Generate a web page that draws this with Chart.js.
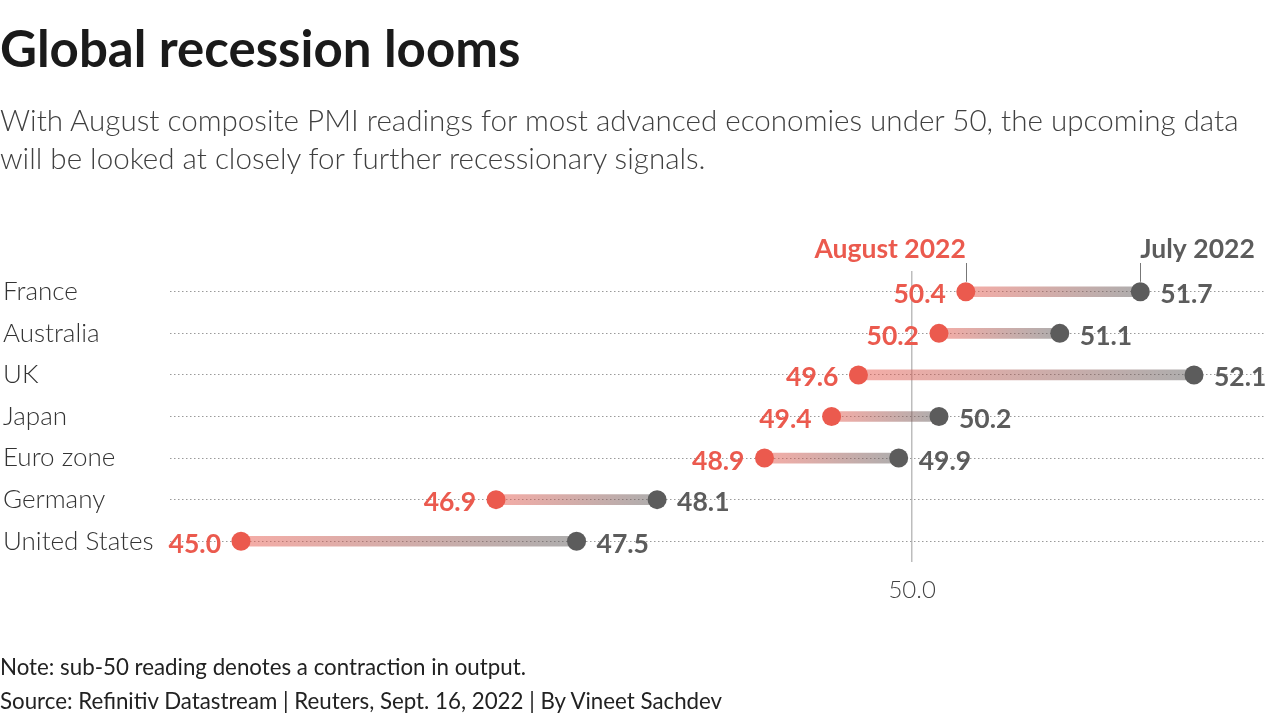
<!DOCTYPE html>
<html>
<head>
<meta charset="utf-8">
<script src="https://cdn.jsdelivr.net/npm/chart.js@4.4.0/dist/chart.umd.min.js"></script>
<style>
  html, body { margin: 0; padding: 0; background: #fff; }
  body { width: 1288px; height: 720px; position: relative; overflow: hidden; font-family: Lato, "Noto Sans", sans-serif; }
  #wrap { position: absolute; left: 0; top: 0; width: 1288px; height: 720px; }
  .txt { position: absolute; left: 0; white-space: nowrap; }
  #title { top: 17px; font-size: 51px; font-weight: 700; color: #1a1a1a; }
  #sub { top: 101px; font-size: 29.6px; font-weight: 300; color: #404040; line-height: 38px; }
  #note { top: 653px; font-size: 22.3px; color: #222; }
  #src { top: 687px; font-size: 22.3px; color: #222; }
</style>
</head>
<body>
<div id="wrap"><canvas id="c" width="1288" height="720"></canvas></div>
<div class="txt" id="title">Global recession looms</div>
<div class="txt" id="sub">With August composite PMI readings for most advanced economies under 50, the upcoming data<br>will be looked at closely for further recessionary signals.</div>
<div class="txt" id="note">Note: sub-50 reading denotes a contraction in output.</div>
<div class="txt" id="src">Source: Refinitiv Datastream | Reuters, Sept. 16, 2022 | By Vineet Sachdev</div>
<script>
const countries = ['France', 'Australia', 'UK', 'Japan', 'Euro zone', 'Germany', 'United States'];
const august2022 = [50.4, 50.2, 49.6, 49.4, 48.9, 46.9, 45.0];
const july2022 = [51.7, 51.1, 52.1, 50.2, 49.9, 48.1, 47.5];
const xTicks = [50];

const RED = '#EB5A4E';
const GRAY = '#5C5C5C';
const FONT = 'Lato, "Noto Sans", sans-serif';

const labelPlugin = {
  id: 'dumbbellLabels',
  afterDatasetsDraw(chart) {
    const ctx = chart.ctx;
    const augMeta = chart.getDatasetMeta(1);
    const julMeta = chart.getDatasetMeta(2);
    ctx.save();
    ctx.font = '700 26.5px ' + FONT;
    ctx.textBaseline = 'middle';
    august2022.forEach((v, i) => {
      const p = augMeta.data[i];
      ctx.fillStyle = RED;
      ctx.textAlign = 'right';
      ctx.fillText(v.toFixed(1), p.x - 20, p.y + 3);
    });
    july2022.forEach((v, i) => {
      const p = julMeta.data[i];
      ctx.fillStyle = GRAY;
      ctx.textAlign = 'left';
      ctx.fillText(v.toFixed(1), p.x + 20, p.y + 3);
    });
    // series headers above first row
    const a0 = augMeta.data[0], j0 = julMeta.data[0];
    const topY = chart.chartArea.top;
    ctx.font = '700 26.5px ' + FONT;
    ctx.textBaseline = 'alphabetic';
    ctx.fillStyle = RED;
    ctx.textAlign = 'right';
    ctx.fillText('August 2022', a0.x, topY - 13);
    ctx.fillStyle = GRAY;
    ctx.textAlign = 'left';
    ctx.fillText('July 2022', j0.x, topY - 13);
    ctx.strokeStyle = '#777';
    ctx.lineWidth = 1;
    ctx.beginPath();
    ctx.moveTo(Math.round(a0.x) + 0.5, topY - 8);
    ctx.lineTo(Math.round(a0.x) + 0.5, a0.y - 10);
    ctx.moveTo(Math.round(j0.x) + 0.5, topY - 8);
    ctx.lineTo(Math.round(j0.x) + 0.5, j0.y - 10);
    ctx.stroke();
    ctx.restore();
  }
};

new Chart(document.getElementById('c'), {
  data: {
    labels: countries,
    datasets: [
      {
        type: 'bar',
        indexAxis: 'y',
        data: august2022.map((a, i) => [a, july2022[i]]),
        barThickness: 10,
        borderWidth: 0,
        borderSkipped: false,
        backgroundColor(context) {
          const chart = context.chart;
          const xs = chart.scales.x;
          if (!xs || context.dataIndex === undefined) return 'rgba(150,150,150,0.5)';
          const x0 = xs.getPixelForValue(august2022[context.dataIndex]);
          const x1 = xs.getPixelForValue(july2022[context.dataIndex]);
          if (!isFinite(x0) || !isFinite(x1) || x0 === x1) return 'rgba(150,150,150,0.5)';
          const g = chart.ctx.createLinearGradient(x0, 0, x1, 0);
          g.addColorStop(0, 'rgba(235,90,78,0.5)');
          g.addColorStop(1, 'rgba(92,92,92,0.5)');
          return g;
        },
        order: 3
      },
      {
        type: 'line',
        indexAxis: 'y',
        data: august2022.map((v, i) => ({ x: v, y: countries[i] })),
        showLine: false,
        pointRadius: 9.5,
        pointHoverRadius: 9.5,
        pointBackgroundColor: RED,
        pointBorderWidth: 0,
        order: 1
      },
      {
        type: 'line',
        indexAxis: 'y',
        data: july2022.map((v, i) => ({ x: v, y: countries[i] })),
        showLine: false,
        pointRadius: 9.5,
        pointHoverRadius: 9.5,
        pointBackgroundColor: GRAY,
        pointBorderWidth: 0,
        order: 2
      }
    ]
  },
  options: {
    responsive: false,
    animation: false,
    events: [],
    layout: { padding: { left: 3, top: 271, right: 23, bottom: 0 } },
    plugins: { legend: { display: false }, tooltip: { enabled: false } },
    scales: {
      x: {
        type: 'linear',
        min: 44.471,
        max: 52.629,
        afterBuildTicks(scale) { scale.ticks = xTicks.map(v => ({ value: v })); },
        afterFit(scale) { scale.height = 720 - 271 - 291; },
        border: { display: false },
        grid: { color: '#bdbdbd', lineWidth: 1.5, drawTicks: false },
        ticks: {
          padding: 14,
          color: '#444',
          font: { family: FONT, size: 24, weight: 300 },
          callback: (v) => Number(v).toFixed(1)
        }
      },
      y: {
        type: 'category',
        offset: true,
        afterFit(scale) { scale.width = 167; },
        border: { display: false, dash: [1.5, 2.5] },
        grid: { offset: false, color: '#9a9a9a', lineWidth: 1, drawTicks: false },
        ticks: {
          crossAlign: 'far',
          padding: 0,
          color: '#333',
          font: { family: FONT, size: 26, weight: 300 }
        }
      }
    }
  },
  plugins: [labelPlugin]
});
</script>
</body>
</html>
